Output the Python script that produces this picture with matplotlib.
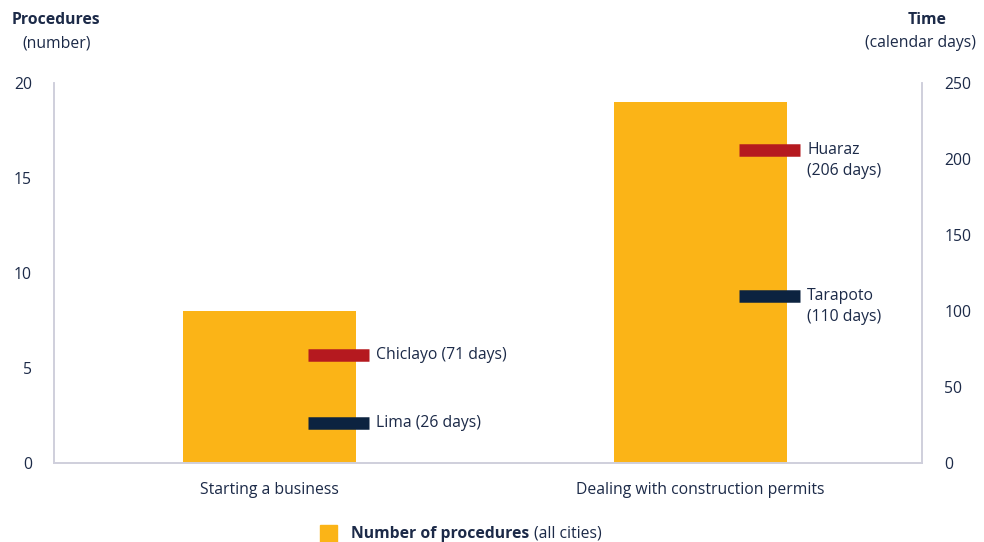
import matplotlib.pyplot as plt
from matplotlib.patches import Rectangle

categories = ['Starting a business', 'Dealing with construction permits']
procedures = [8, 19]
city_names = [['Lima', 'Chiclayo'], ['Tarapoto', 'Huaraz']]
city_days = [[26, 71], [110, 206]]
city_extra = [['(26 days)', '(71 days)'], ['(110 days)', '(206 days)']]

YELLOW = '#fbb417'
RED = '#b5191f'
NAVY = '#0c2340'
TXT = '#1c2a48'
GRID = '#cfcfdc'
FS = 11.3

plt.rcParams['font.family'] = ['Open Sans', 'DejaVu Sans']

fig = plt.figure(figsize=(9.84, 5.42), dpi=100)
ax = fig.add_axes([0.0549, 0.1458, 0.8821, 0.7011])
ax2 = ax.twinx()

x = list(range(len(categories)))
ax.bar(x, procedures, width=0.4, color=YELLOW, zorder=2)
ax.set_xlim(-0.5, 1.514)
ax.set_ylim(0, 20)
ax.set_yticks([0, 5, 10, 15, 20])
ax.set_xticks(x)
ax.set_xticklabels(categories)

ax2.set_ylim(0, 250)
ax2.set_yticks([0, 50, 100, 150, 200, 250])

colors = [NAVY, RED]
for i in x:
    for j in range(2):
        d = city_days[i][j]
        ax2.plot([i + 0.09, i + 0.2315], [d, d], color=colors[j], lw=9,
                 solid_capstyle='butt', zorder=3)
        if i == 0:
            ax2.annotate(city_names[i][j] + ' ' + city_extra[i][j], xy=(i + 0.248, d),
                         color=TXT, fontsize=FS, va='center', ha='left')
        else:
            ax2.annotate(city_names[i][j], xy=(i + 0.248, d),
                         color=TXT, fontsize=FS, va='center', ha='left')
            ax2.annotate(city_extra[i][j], xy=(i + 0.248, d), xytext=(0, -15.5),
                         textcoords='offset points',
                         color=TXT, fontsize=FS, va='center', ha='left')

for a in (ax, ax2):
    a.tick_params(length=0, labelsize=FS, labelcolor=TXT)
    a.spines['top'].set_visible(False)
    for s in ('left', 'right', 'bottom'):
        a.spines[s].set_color(GRID)
        a.spines[s].set_linewidth(1.2)
ax.tick_params(axis='y', pad=16)
ax2.tick_params(axis='y', pad=16)
ax.tick_params(axis='x', pad=14)

fig.text(12 / 984, 1 - 20 / 542, 'Procedures', fontsize=FS, fontweight='bold',
         color=TXT, ha='left', va='center')
fig.text(22 / 984, 1 - 43 / 542, '(number)', fontsize=FS, color=TXT,
         ha='left', va='center')
fig.text(947 / 984, 1 - 20 / 542, 'Time', fontsize=FS, fontweight='bold',
         color=TXT, ha='right', va='center')
fig.text(976 / 984, 1 - 43 / 542, '(calendar days)', fontsize=FS, color=TXT,
         ha='right', va='center')

# legend at the bottom
fig.patches.append(Rectangle((320 / 984, 0), 17 / 984, 17 / 542,
                             transform=fig.transFigure, color=YELLOW))
t1 = fig.text(351 / 984, 1 - 534 / 542, 'Number of procedures', fontsize=FS,
              fontweight='bold', color=TXT, ha='left', va='center')
fig.canvas.draw()
bb = t1.get_window_extent()
fig.text((bb.x1 + 5) / 984, 1 - 534 / 542, '(all cities)', fontsize=FS, color=TXT,
         ha='left', va='center')

fig.savefig('out.png', dpi=100)
